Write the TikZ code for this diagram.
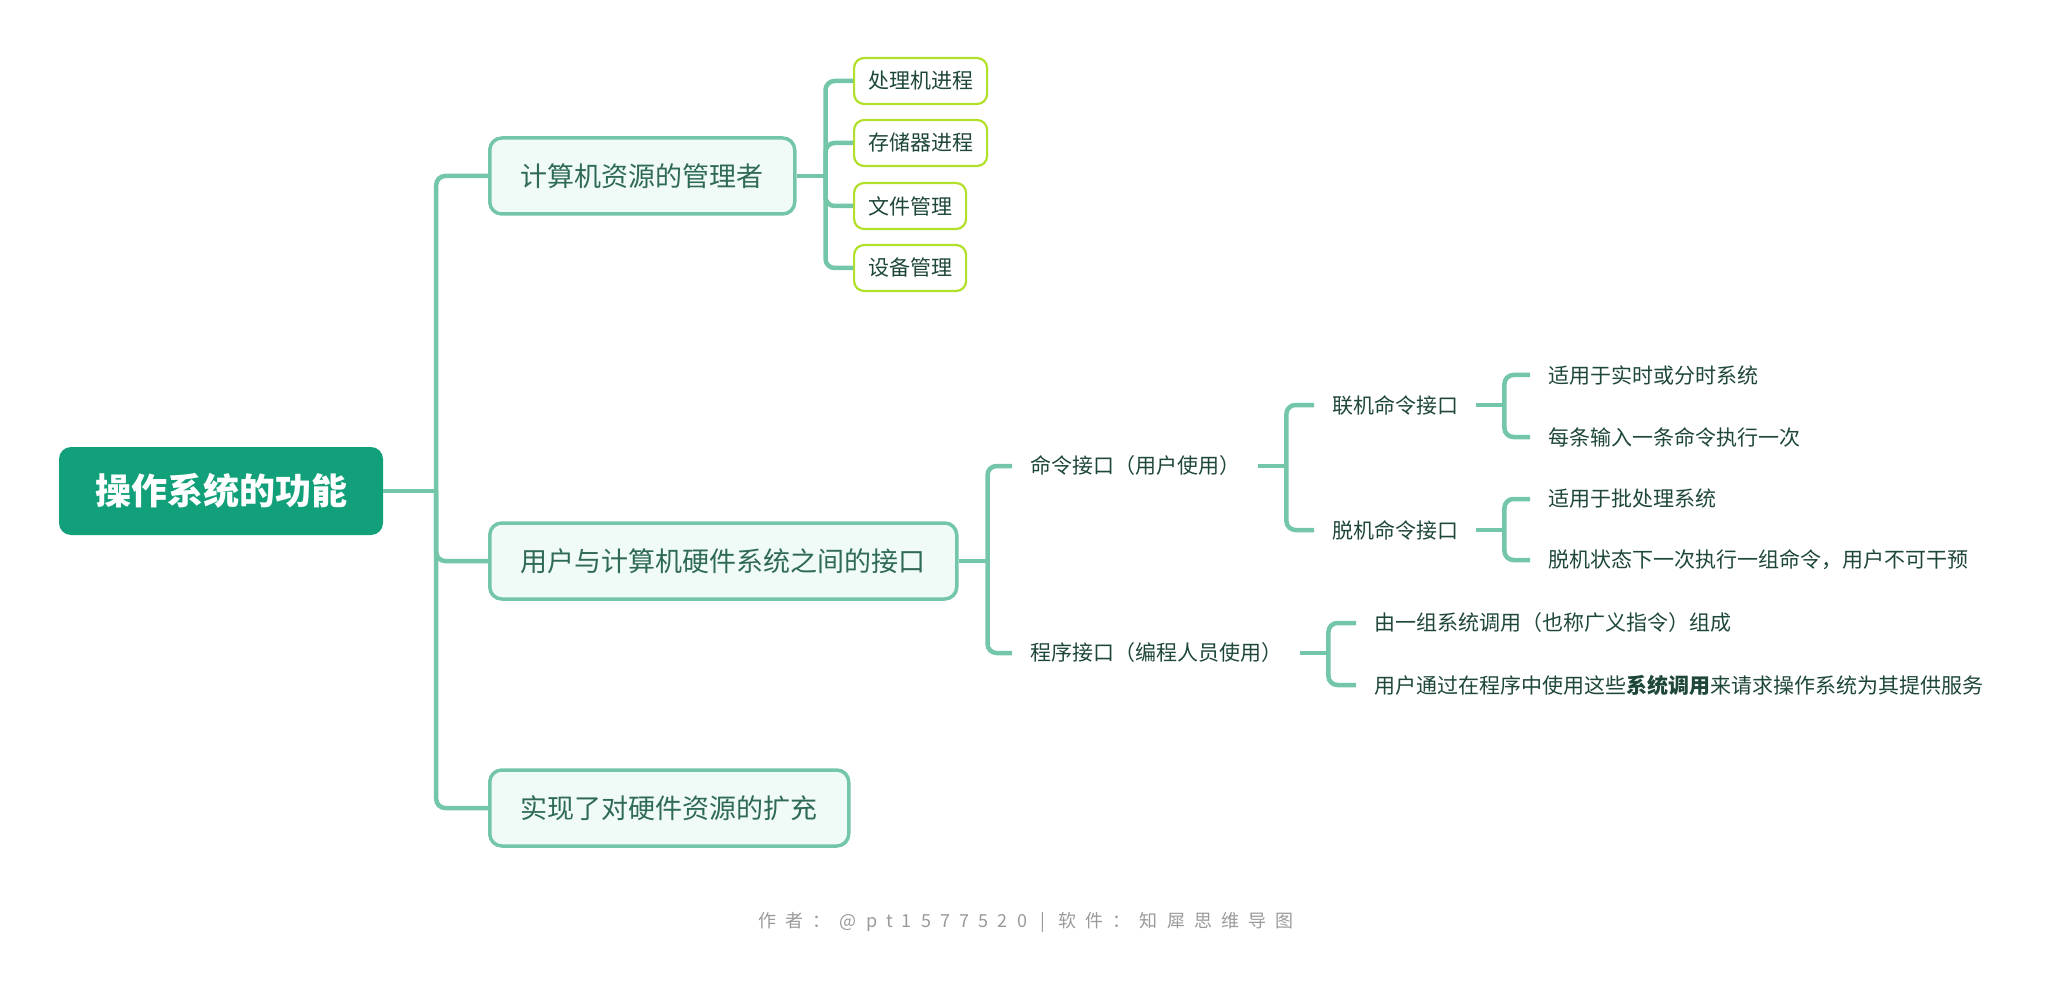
\documentclass[tikz,border=0pt]{standalone}
\usepackage{fontspec}
\setmainfont{Noto Sans CJK SC}
\newfontfamily\footfont[LetterSpace=51]{Noto Sans CJK SC}
\usepackage{xcolor}
\usetikzlibrary{positioning}
\definecolor{rootgreen}{HTML}{12A07A}
\definecolor{branch}{HTML}{74C6A8}
\definecolor{mint}{HTML}{F0FBF8}
\definecolor{lime}{HTML}{B2E02A}
\definecolor{darktext}{HTML}{1E4739}
\definecolor{midtext}{HTML}{2F6A56}
\definecolor{muted}{HTML}{9A9A9A}

\begin{document}
\begin{tikzpicture}[x=1pt,y=-1pt,
  root/.style={fill=rootgreen,rounded corners=12pt,text=white,font=\fontsize{36}{40}\selectfont\bfseries,minimum height=88pt,inner xsep=36pt},
  topic/.style={draw=branch,line width=3.5pt,fill=mint,rounded corners=12pt,text=midtext,font=\fontsize{27}{32}\selectfont,minimum height=76pt,inner xsep=31pt,anchor=west},
  leafbox/.style={draw=lime,line width=2.2pt,fill=white,rounded corners=10pt,text=darktext,font=\fontsize{21}{25}\selectfont,minimum height=46pt,inner xsep=14pt,anchor=west},
  plain/.style={text=darktext,font=\fontsize{21}{25}\selectfont,inner xsep=18pt,anchor=west},
  link/.style={draw=branch,line width=4.5pt,rounded corners=9pt}]
  \useasboundingbox (0,0) rectangle (2057,1000);
  % root and first level
  \node[root] (os) at (221,491) {操作系统的功能};
  \node[topic] (mgr) at (488,176) {计算机资源的管理者};
  \node[topic] (iface) at (488,561) {用户与计算机硬件系统之间的接口};
  \node[topic] (ext) at (488,808) {实现了对硬件资源的扩充};
  \path (os.east) -- ++(53,0) coordinate (osj);
  \draw[link] (os.east) -- (osj);
  \foreach \t in {mgr,iface,ext} \draw[link] (osj) |- (\t.west);
  % resource manager
  \node[leafbox] (cpu) at (853,81) {处理机进程};
  \node[leafbox] (mem) at (853,143) {存储器进程};
  \node[leafbox] (file) at (853,206) {文件管理};
  \node[leafbox] (dev) at (853,268) {设备管理};
  \path (mgr.east) -- ++(29,0) coordinate (mgrj);
  \draw[link] (mgr.east) -- (mgrj);
  \foreach \t in {cpu,mem,file,dev} \draw[link] (mgrj) |- (\t.west);
  % interface
  \node[plain] (cmd) at (1012,466) {命令接口（用户使用）};
  \node[plain] (prog) at (1012,653) {程序接口（编程人员使用）};
  \path (iface.east) -- ++(29,0) coordinate (ifacej);
  \draw[link] (iface.east) -- (ifacej);
  \foreach \t in {cmd,prog} \draw[link] (ifacej) |- (\t.west);
  \node[plain] (online) at (1314,405) {联机命令接口};
  \node[plain] (offline) at (1314,530) {脱机命令接口};
  \path (cmd.east) -- ++(28,0) coordinate (cmdj);
  \draw[link] (cmd.east) -- (cmdj);
  \foreach \t in {online,offline} \draw[link] (cmdj) |- (\t.west);
  \node[plain] (on1) at (1530,375) {适用于实时或分时系统};
  \node[plain] (on2) at (1530,437) {每条输入一条命令执行一次};
  \path (online.east) -- ++(28,0) coordinate (onlinej);
  \draw[link] (online.east) -- (onlinej);
  \foreach \t in {on1,on2} \draw[link] (onlinej) |- (\t.west);
  \node[plain] (off1) at (1530,499) {适用于批处理系统};
  \node[plain] (off2) at (1530,560) {脱机状态下一次执行一组命令，用户不可干预};
  \path (offline.east) -- ++(28,0) coordinate (offlinej);
  \draw[link] (offline.east) -- (offlinej);
  \foreach \t in {off1,off2} \draw[link] (offlinej) |- (\t.west);
  \node[plain] (pg1) at (1356,623) {由一组系统调用（也称广义指令）组成};
  \node[plain] (pg2) at (1356,685) {用户通过在程序中使用这些\textbf{系统调用}来请求操作系统为其提供服务};
  \path (prog.east) -- ++(28,0) coordinate (progj);
  \draw[link] (prog.east) -- (progj);
  \foreach \t in {pg1,pg2} \draw[link] (progj) |- (\t.west);
  % footer
  \node[text=muted,font=\footfont\fontsize{18}{22}\selectfont] (credit) at (1026,922) {作者：@pt1577520 | 软件：知犀思维导图};
\end{tikzpicture}
\end{document}
